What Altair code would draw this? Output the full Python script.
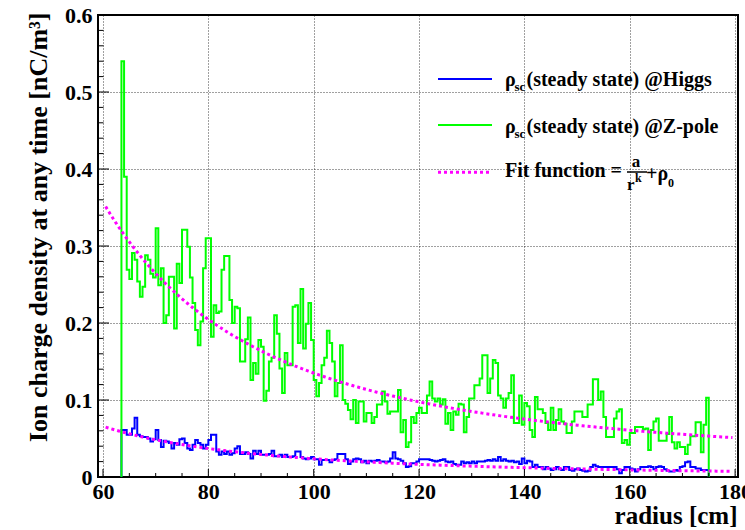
import altair as alt
import pandas as pd

FONT = "Liberation Serif"

# Histogram binning along the radius (cm)
R_START = 63.5
BIN_WIDTH = 0.5

# Steady-state ion space-charge density per bin [nC/m^3], Z-pole running
zpole_64_86 = [0.54, 0.39, 0.269, 0.257, 0.291, 0.282, 0.254, 0.234, 0.247, 0.288,
               0.282, 0.264, 0.259, 0.323, 0.249, 0.271, 0.200, 0.210, 0.260, 0.260,
               0.193, 0.277, 0.252, 0.321, 0.321, 0.299, 0.259, 0.226, 0.191, 0.171,
               0.202, 0.271, 0.310, 0.310, 0.182, 0.223, 0.213, 0.215, 0.269, 0.287,
               0.287, 0.230, 0.200, 0.221]
zpole_86_109 = [0.219, 0.150, 0.150, 0.179, 0.207, 0.126, 0.148, 0.134, 0.178, 0.169,
                0.099, 0.112, 0.150, 0.155, 0.210, 0.186, 0.141, 0.109, 0.161, 0.145,
                0.145, 0.221, 0.223, 0.174, 0.244, 0.167, 0.199, 0.226, 0.178, 0.126,
                0.105, 0.122, 0.145, 0.155, 0.190, 0.174, 0.150, 0.105, 0.122, 0.171,
                0.100, 0.095, 0.087, 0.075, 0.100, 0.070]
zpole_109_133 = [0.098, 0.098, 0.072, 0.083, 0.083, 0.070, 0.078, 0.094, 0.094, 0.111,
                 0.098, 0.082, 0.085, 0.085, 0.085, 0.113, 0.058, 0.074, 0.039, 0.045,
                 0.078, 0.070, 0.083, 0.090, 0.083, 0.083, 0.106, 0.124, 0.102, 0.098,
                 0.102, 0.094, 0.101, 0.069, 0.083, 0.061, 0.085, 0.081, 0.095, 0.094,
                 0.058, 0.078, 0.102, 0.102, 0.119, 0.119, 0.128, 0.158]
zpole_133_156 = [0.158, 0.109, 0.128, 0.152, 0.148, 0.106, 0.102, 0.090, 0.102, 0.109,
                 0.132, 0.070, 0.070, 0.106, 0.068, 0.096, 0.092, 0.061, 0.052, 0.104,
                 0.088, 0.088, 0.083, 0.070, 0.061, 0.090, 0.061, 0.074, 0.088, 0.072,
                 0.069, 0.057, 0.057, 0.072, 0.085, 0.085, 0.085, 0.078, 0.078, 0.094,
                 0.094, 0.127, 0.127, 0.100, 0.111, 0.078, 0.052]
zpole_156_175 = [0.052, 0.052, 0.076, 0.085, 0.088, 0.044, 0.048, 0.042, 0.057, 0.057,
                 0.065, 0.065, 0.065, 0.062, 0.063, 0.035, 0.061, 0.072, 0.076, 0.047,
                 0.047, 0.047, 0.056, 0.078, 0.045, 0.037, 0.045, 0.039, 0.039, 0.030,
                 0.042, 0.053, 0.053, 0.071, 0.071, 0.032, 0.068, 0.103]

# Same quantity for Higgs running
higgs_64_86 = [0.061, 0.061, 0.055, 0.055, 0.063, 0.077, 0.055, 0.053, 0.052, 0.052,
               0.050, 0.046, 0.049, 0.061, 0.048, 0.039, 0.047, 0.046, 0.044, 0.037,
               0.044, 0.042, 0.049, 0.050, 0.044, 0.037, 0.035, 0.042, 0.048, 0.044,
               0.042, 0.037, 0.042, 0.048, 0.055, 0.055, 0.033, 0.029, 0.033, 0.030,
               0.033, 0.029, 0.031, 0.037]
higgs_86_109 = [0.040, 0.030, 0.030, 0.032, 0.030, 0.024, 0.034, 0.030, 0.034, 0.029,
                0.029, 0.029, 0.030, 0.034, 0.027, 0.027, 0.029, 0.026, 0.029, 0.026,
                0.026, 0.027, 0.033, 0.033, 0.026, 0.024, 0.023, 0.024, 0.026, 0.023,
                0.023, 0.016, 0.022, 0.022, 0.022, 0.019, 0.022, 0.023, 0.030, 0.030,
                0.030, 0.023, 0.017, 0.020, 0.023, 0.024]
higgs_109_133 = [0.023, 0.019, 0.021, 0.018, 0.021, 0.020, 0.021, 0.022, 0.020, 0.020,
                 0.019, 0.020, 0.024, 0.032, 0.024, 0.023, 0.021, 0.018, 0.013, 0.014,
                 0.018, 0.018, 0.020, 0.023, 0.023, 0.023, 0.023, 0.022, 0.021, 0.020,
                 0.021, 0.022, 0.023, 0.020, 0.019, 0.020, 0.017, 0.016, 0.016, 0.020,
                 0.018, 0.019, 0.018, 0.020, 0.018, 0.020, 0.020, 0.020]
higgs_133_156 = [0.021, 0.022, 0.021, 0.023, 0.021, 0.026, 0.021, 0.023, 0.021, 0.020,
                 0.021, 0.019, 0.020, 0.017, 0.024, 0.018, 0.021, 0.020, 0.013, 0.016,
                 0.013, 0.013, 0.010, 0.013, 0.011, 0.009, 0.010, 0.013, 0.010, 0.009,
                 0.013, 0.013, 0.009, 0.008, 0.010, 0.011, 0.009, 0.008, 0.007, 0.008,
                 0.013, 0.016, 0.014, 0.013, 0.013, 0.013, 0.013]
higgs_156_175 = [0.013, 0.013, 0.013, 0.010, 0.005, 0.009, 0.013, 0.013, 0.011, 0.010,
                 0.007, 0.010, 0.013, 0.013, 0.013, 0.014, 0.013, 0.010, 0.013, 0.014,
                 0.013, 0.010, 0.008, 0.007, 0.007, 0.009, 0.008, 0.013, 0.014, 0.019,
                 0.020, 0.013, 0.013, 0.011, 0.011, 0.009, 0.009, 0.009]

rho_zpole = zpole_64_86 + zpole_86_109 + zpole_109_133 + zpole_133_156 + zpole_156_175
rho_higgs = higgs_64_86 + higgs_86_109 + higgs_109_133 + higgs_133_156 + higgs_156_175

# Fit results for a / r^k + rho0
FIT_ZPOLE = {"a": 1511.0, "k": 2.05, "rho0": 0.015}
FIT_HIGGS = {"a": 237.0, "k": 2.0, "rho0": 0.0}
FIT_R_MIN, FIT_R_MAX, FIT_STEP = 60.5, 179.5, 0.5

# Axis ticks
X_MAJOR = [60, 80, 100, 120, 140, 160, 180]
X_MINOR = [r for r in range(60, 181, 5) if r % 20 != 0]
Y_MAJOR = [0.0, 0.1, 0.2, 0.3, 0.4, 0.5, 0.6]
Y_MINOR = [round(i * 0.02, 2) for i in range(31) if i % 5 != 0]

W, H = 640, 462
x_scale = alt.Scale(domain=[59.05, 180.55], nice=False, zero=False)
y_scale = alt.Scale(domain=[0, 0.6], nice=False, zero=False)

x_axis = alt.Axis(
    values=X_MAJOR, format="d", labelFont=FONT, labelFontWeight="bold",
    labelFontSize=22, labelColor="black", labelPadding=4, labelFlush=False,
    ticks=False, domain=False, grid=True, gridColor="black", gridDash=[1, 2],
    gridWidth=1, gridOpacity=0.75,
    title="radius [cm]", titleFont=FONT, titleFontWeight="bold", titleFontSize=25,
    titleColor="black", titleAlign="right", titleBaseline="alphabetic",
    titleX=W - 1, titleY=46,
)
y_axis = alt.Axis(
    values=Y_MAJOR, labelExpr="datum.value == 0 ? '0' : format(datum.value, '.1f')",
    labelFont=FONT, labelFontWeight="bold", labelFontSize=22, labelColor="black",
    labelPadding=6, labelFlush=False, ticks=False, domain=False, grid=True,
    gridColor="black", gridDash=[1, 2], gridWidth=1, gridOpacity=0.75,
    title="Ion charge density at any time [nC/m³]", titleFont=FONT,
    titleFontWeight="bold", titleFontSize=26, titleColor="black", titleAngle=270,
    titleAlign="right", titleBaseline="middle", titleX=-60, titleY=-3,
)


def X(field="r"):
    return alt.X(f"{field}:Q", scale=x_scale, axis=x_axis)


def Y(field="v"):
    return alt.Y(f"{field}:Q", scale=y_scale, axis=y_axis)


def step_table(values):
    """Outline of a histogram: up from zero at the first edge, down at the last."""
    n = len(values)
    rows = [{"r": R_START, "v": 0.0, "o": 0}]
    for i, v in enumerate(values):
        rows.append({"r": R_START + i * BIN_WIDTH, "v": v, "o": i + 1})
    rows.append({"r": R_START + n * BIN_WIDTH, "v": values[-1], "o": n + 1})
    rows.append({"r": R_START + n * BIN_WIDTH, "v": 0.0, "o": n + 2})
    return pd.DataFrame(rows)


def fit_table(p):
    n = int(round((FIT_R_MAX - FIT_R_MIN) / FIT_STEP)) + 1
    rs = [FIT_R_MIN + i * FIT_STEP for i in range(n)]
    return pd.DataFrame({"r": rs, "v": [p["a"] / r ** p["k"] + p["rho0"] for r in rs]})


def hist_layer(values, color):
    return alt.Chart(step_table(values)).mark_line(
        interpolate="step-after", color=color, strokeWidth=2, clip=True
    ).encode(x=X(), y=Y(), order="o:Q")


def fit_layer(p):
    return alt.Chart(fit_table(p)).mark_line(
        color="#ff00ff", strokeWidth=3, strokeDash=[3, 3], clip=True
    ).encode(x=X(), y=Y())


def x_ticks(vals, length):
    return alt.Chart(pd.DataFrame({"r": vals})).mark_rule(color="black", strokeWidth=1).encode(
        x=X(), y=alt.value(H), y2=alt.value(H - length),
    )


def y_ticks(vals, length):
    return alt.Chart(pd.DataFrame({"v": vals})).mark_rule(color="black", strokeWidth=1).encode(
        y=Y(), x=alt.value(0), x2=alt.value(length),
    )


one = pd.DataFrame({"k": [0]})


def text(t, x, y, size, align="left"):
    return alt.Chart(one).mark_text(
        text=t, font=FONT, fontSize=size, fontWeight="bold", align=align,
        baseline="alphabetic", color="black",
    ).encode(x=alt.value(x), y=alt.value(y))


def key_line(y, color, dash=None, width=2):
    kw = {"color": color, "strokeWidth": width}
    if dash:
        kw["strokeDash"] = dash
    return alt.Chart(one).mark_rule(**kw).encode(
        x=alt.value(340), x2=alt.value(394), y=alt.value(y)
    )


legend = [
    key_line(64, "#0000ff"),
    text("ρ", 407, 70.5, 20), text("sc", 416.5, 76, 13),
    text("(steady state) @Higgs", 428.5, 70.5, 20),
    key_line(110, "#00ff00"),
    text("ρ", 407, 117.5, 20), text("sc", 416.5, 123, 13),
    text("(steady state) @Z-pole", 428.5, 117.5, 20),
    key_line(157.3, "#ff00ff", dash=[3, 3], width=3),
    text("Fit function =", 407, 162, 20),
    text("a", 538, 152, 17, align="center"),
    alt.Chart(one).mark_rule(color="black", strokeWidth=1.5).encode(
        x=alt.value(529), x2=alt.value(549), y=alt.value(157)),
    text("r", 529, 175, 17), text("k", 537, 167, 12),
    text("+ρ", 548, 165, 20), text("0", 570, 172, 12),
]

chart = alt.layer(
    hist_layer(rho_higgs, "#0000ff"),
    hist_layer(rho_zpole, "#00ff00"),
    fit_layer(FIT_HIGGS),
    fit_layer(FIT_ZPOLE),
    x_ticks(X_MAJOR, 8), x_ticks(X_MINOR, 4),
    y_ticks(Y_MAJOR, 11), y_ticks(Y_MINOR, 5.5),
    *legend,
).properties(
    width=W, height=H,
    padding={"left": 98, "top": 15, "right": 7, "bottom": 53},
    autosize=alt.AutoSizeParams(type="none"),
    background="white",
).configure_view(stroke="black", strokeWidth=2)

chart.save("out.html", embed_options={"renderer": "svg", "actions": False})
